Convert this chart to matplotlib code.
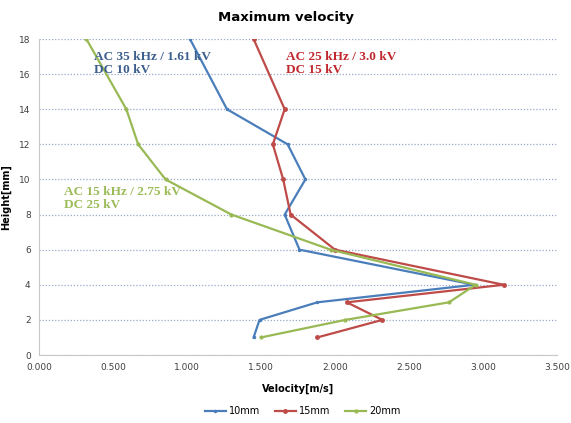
import matplotlib
matplotlib.use("Agg")
import matplotlib.pyplot as plt
from matplotlib.ticker import FormatStrFormatter

# height (mm) and velocity (m/s) per nozzle distance
height = [18, 14, 12, 10, 8, 6, 4, 3, 2, 1]
v_10mm = [1.02, 1.27, 1.68, 1.80, 1.66, 1.76, 2.94, 1.88, 1.49, 1.45]
v_15mm = [1.45, 1.66, 1.58, 1.65, 1.70, 2.00, 3.14, 2.08, 2.32, 1.88]
v_20mm = [0.32, 0.59, 0.67, 0.855, 1.30, 1.97, 2.95, 2.77, 2.07, 1.50]

c_blue = "#4a7ebb"
c_red = "#be4b48"
c_green = "#98b954"

fig = plt.figure(figsize=(5.71, 4.23), dpi=100)
ax = fig.add_axes([39/571, 1-355/423, (557-39)/571, (355-39)/423])

ax.plot(v_10mm, height, color=c_blue, lw=1.6, marker="o", ms=1.5, label="10mm")
ax.plot(v_15mm, height, color=c_red, lw=1.6, marker="o", ms=2.5, label="15mm")
ax.plot(v_20mm, height, color=c_green, lw=1.6, marker="o", ms=2, label="20mm")

ax.set_xlim(0, 3.5)
ax.set_ylim(0, 18)
ax.set_xticks([0, 0.5, 1.0, 1.5, 2.0, 2.5, 3.0, 3.5])
ax.set_yticks(range(0, 19, 2))
ax.xaxis.set_major_formatter(FormatStrFormatter("%.3f"))
ax.tick_params(labelsize=6.5, length=0, colors="#404040", pad=6)
ax.grid(axis="y", linestyle=(0, (1, 1.5)), color="#9aa8c8", lw=0.9)
for s in ["top", "right"]:
    ax.spines[s].set_visible(False)
ax.spines["left"].set_color("#c8c8c8")
ax.spines["bottom"].set_color("#c8c8c8")

ax.set_xlabel("Velocity[m/s]", fontsize=7, fontweight="bold", labelpad=8)
ax.set_ylabel("Height[mm]", fontsize=7, fontweight="bold", labelpad=6)
fig.text(0.5, 1-18/423, "Maximum velocity", ha="center", va="center",
         fontsize=9.5, fontweight="bold")

tfont = dict(family="Liberation Serif", fontsize=9.5, fontweight="bold", va="top")
ax.text(0.37, 17.3, "AC 35 kHz / 1.61 kV\nDC 10 kV", color="#3c5f8f", linespacing=1.05, **tfont)
ax.text(1.67, 17.3, "AC 25 kHz / 3.0 kV\nDC 15 kV", color="#c0282d", linespacing=1.05, **tfont)
ax.text(0.17, 9.6, "AC 15 kHz / 2.75 kV\nDC 25 kV", color="#9bbb59", linespacing=1.05, **tfont)

fig.legend(loc="center", bbox_to_anchor=(0.53, 1-411/423), ncol=3, frameon=False,
           fontsize=7, handlelength=2.2, columnspacing=1.5, handletextpad=0.3)

fig.savefig("out.png", dpi=100)
